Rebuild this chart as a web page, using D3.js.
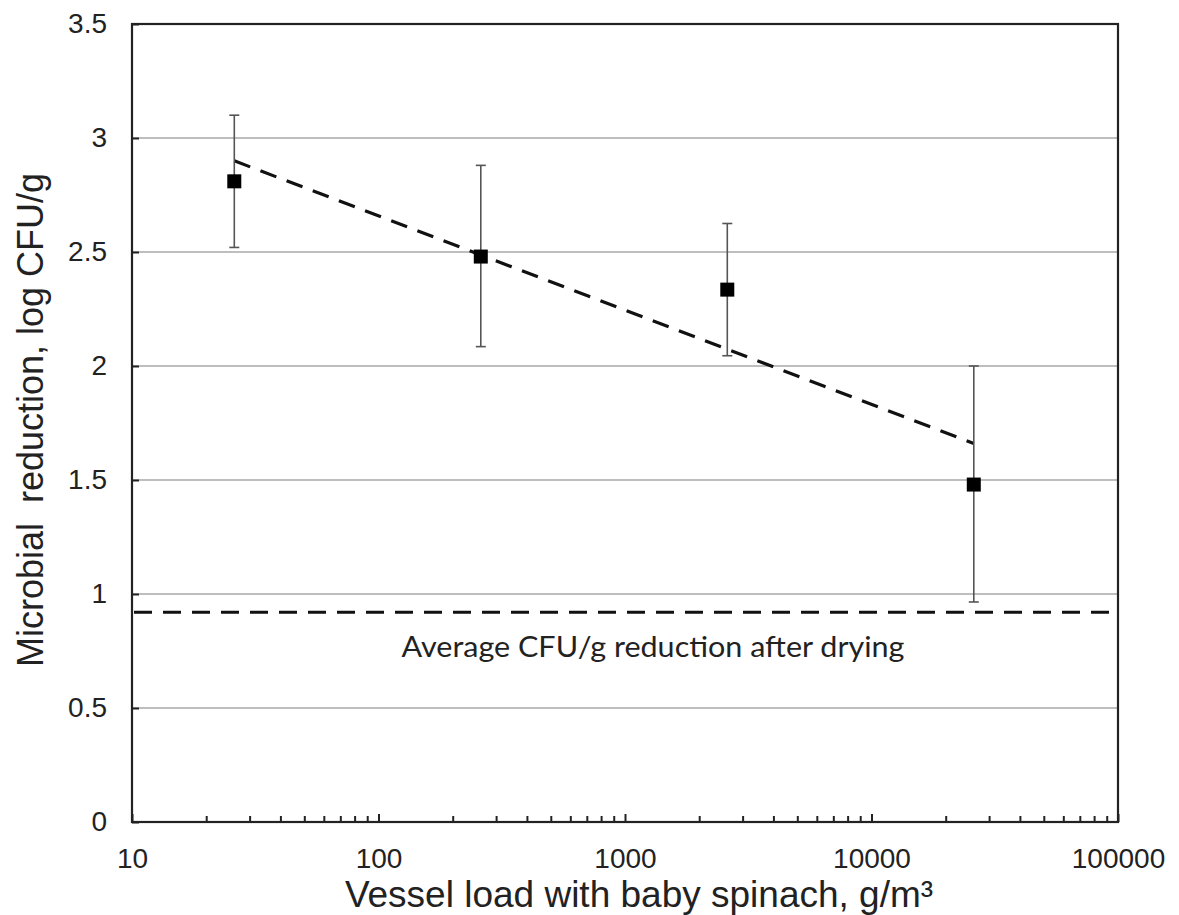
<!DOCTYPE html>
<html><head><meta charset="utf-8">
<script src="https://cdn.jsdelivr.net/npm/d3@7"></script>
<style>body{margin:0;background:#fff}svg{display:block}</style>
</head><body>
<svg id="c" width="1179" height="915"></svg>
<script>
const loads = [26, 260, 2600, 26000];
const means = [2.81, 2.48, 2.335, 1.48];
const errUpper = [3.10, 2.88, 2.625, 2.00];
const errLower = [2.52, 2.085, 2.045, 0.965];
const trendX = [26, 26000];
const trendY = [2.90, 1.66];
const avgReduction = 0.92;
const yTicks = [0, 0.5, 1, 1.5, 2, 2.5, 3, 3.5];
const xTicks = [10, 100, 1000, 10000, 100000];
const xTitle = "Vessel load with baby spinach, g/m³";
const yTitle = "Microbial\u00A0 reduction, log CFU/g";
const avgLabel = "Average CFU/g reduction after drying";

const W = 1179, H = 915;
const m = {l: 132, r: 61, t: 24, b: 93};
const svg = d3.select("#c");
const x = d3.scaleLog().domain([10, 100000]).range([m.l, W - m.r]);
const y = d3.scaleLinear().domain([0, 3.5]).range([H - m.b, m.t]);
const SANS = "'Liberation Sans', Arial, sans-serif";

// gridlines
svg.append("g").selectAll("line").data(yTicks.filter(v => v > 0 && v < 3.5)).join("line")
  .attr("x1", m.l).attr("x2", W - m.r).attr("y1", d => y(d)).attr("y2", d => y(d))
  .attr("stroke", "#a9a9a9").attr("stroke-width", 1.5);

// y axis
const ya = svg.append("g").attr("transform", `translate(${m.l},0)`)
  .call(d3.axisLeft(y).tickValues(yTicks).tickFormat(d3.format("")).tickSizeInner(-7).tickSizeOuter(0).tickPadding(25));
ya.select(".domain").remove();
ya.selectAll(".tick line").attr("stroke", "#222").attr("stroke-width", 2);
ya.selectAll(".tick text").attr("font-family", SANS).attr("font-size", 28).attr("fill", "#222");

// x axis with log minor ticks
const allX = [];
for (let dec = 10; dec < 100000; dec *= 10) for (let k = 1; k < 10; k++) allX.push(dec * k);
const xa = svg.append("g").attr("transform", `translate(0,${H - m.b})`)
  .call(d3.axisBottom(x).tickValues(allX.concat([100000])).tickFormat(d => xTicks.includes(d) ? d3.format("")(d) : "")
    .tickSizeInner(-7).tickSizeOuter(0).tickPadding(26));
xa.select(".domain").remove();
xa.selectAll(".tick line").attr("stroke", "#222").attr("stroke-width", 2)
  .attr("y2", d => xTicks.includes(d) ? -8 : -6);
xa.selectAll(".tick text").attr("font-family", SANS).attr("font-size", 28).attr("fill", "#222");

// frame
svg.append("rect").attr("x", m.l).attr("y", m.t).attr("width", W - m.r - m.l).attr("height", H - m.b - m.t)
  .attr("fill", "none").attr("stroke", "#222").attr("stroke-width", 2.2);

// average line
svg.append("line").attr("x1", m.l + 2).attr("x2", W - m.r - 1).attr("y1", y(avgReduction)).attr("y2", y(avgReduction))
  .attr("stroke", "#111").attr("stroke-width", 3.2).attr("stroke-dasharray", "18,11");
svg.append("text").attr("x", 653).attr("y", 657).attr("text-anchor", "middle")
  .attr("font-family", "Lato, 'Open Sans', sans-serif").attr("font-size", 28).attr("fill", "#222")
  .attr("textLength", 503).attr("lengthAdjust", "spacingAndGlyphs").text(avgLabel);

// trend line
svg.append("path").datum(trendX.map((v, i) => [v, trendY[i]]))
  .attr("d", d3.line().x(d => x(d[0])).y(d => y(d[1])))
  .attr("fill", "none").attr("stroke", "#111").attr("stroke-width", 3.2).attr("stroke-dasharray", "17,11");

// error bars
const eb = svg.append("g").attr("stroke", "#555").attr("stroke-width", 1.6);
eb.selectAll(".v").data(loads).join("line").attr("class", "v")
  .attr("x1", d => x(d)).attr("x2", d => x(d))
  .attr("y1", (d, i) => y(errUpper[i])).attr("y2", (d, i) => y(errLower[i]));
eb.selectAll(".u").data(loads).join("line").attr("class", "u")
  .attr("x1", d => x(d) - 5).attr("x2", d => x(d) + 5)
  .attr("y1", (d, i) => y(errUpper[i])).attr("y2", (d, i) => y(errUpper[i]));
eb.selectAll(".l").data(loads).join("line").attr("class", "l")
  .attr("x1", d => x(d) - 5).attr("x2", d => x(d) + 5)
  .attr("y1", (d, i) => y(errLower[i])).attr("y2", (d, i) => y(errLower[i]));

// markers
svg.append("g").selectAll("rect").data(loads).join("rect")
  .attr("x", d => x(d) - 7).attr("y", (d, i) => y(means[i]) - 7)
  .attr("width", 14).attr("height", 14).attr("fill", "#000");

// titles
svg.append("text").attr("x", 639).attr("y", 907).attr("text-anchor", "middle")
  .attr("font-family", SANS).attr("font-size", 37).attr("fill", "#222").text(xTitle);
svg.append("text").attr("transform", `translate(43,420) rotate(-90)`).attr("text-anchor", "middle")
  .attr("font-family", SANS).attr("font-size", 36).attr("fill", "#222").text(yTitle);
</script>
</body></html>
